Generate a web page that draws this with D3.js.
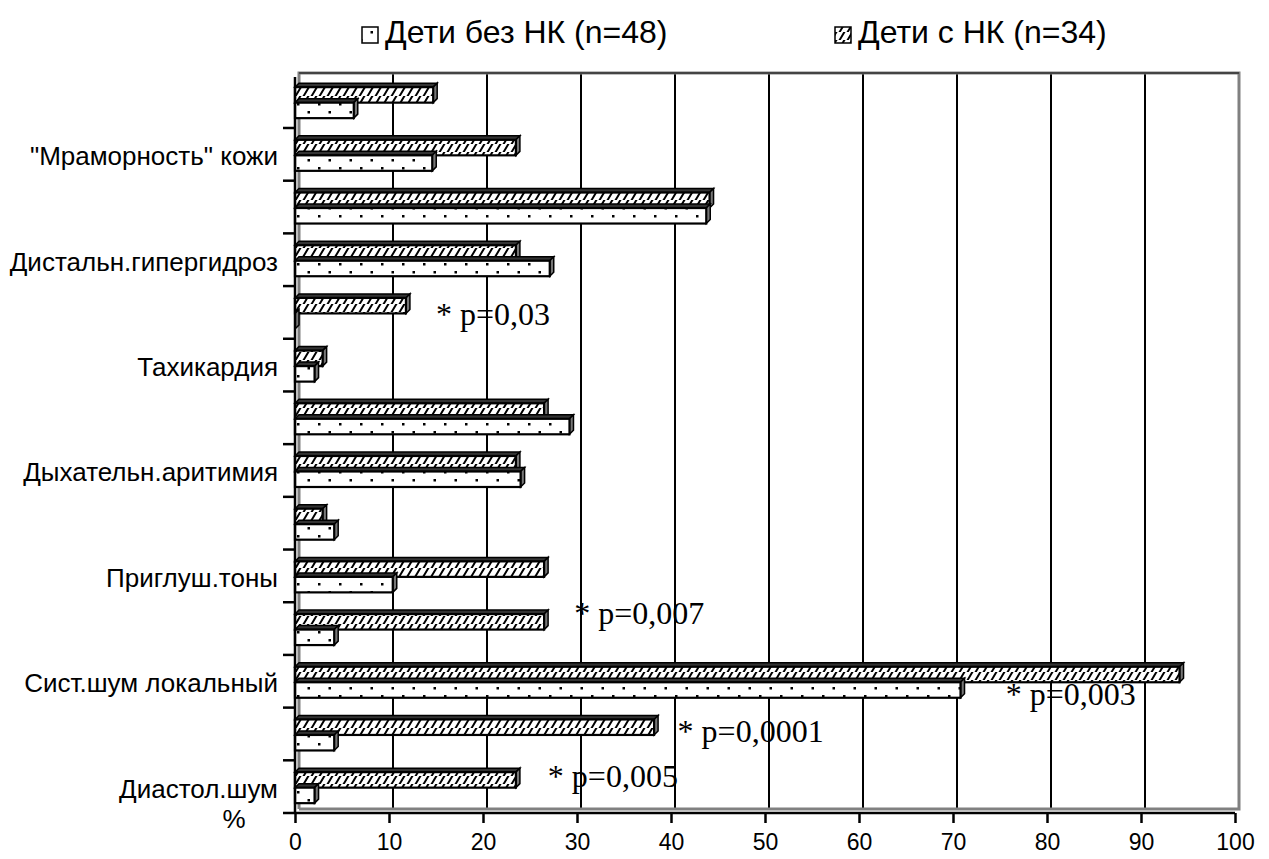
<!DOCTYPE html>
<html><head><meta charset="utf-8">
<script src="https://cdn.jsdelivr.net/npm/d3@7"></script>
<style>
html,body{margin:0;padding:0;background:#fff;}
svg{display:block;}
</style></head>
<body>
<svg id="chart" width="1269" height="859"></svg>
<script>
const categories = ["", "\"Мраморность\" кожи", "", "Дистальн.гипергидроз", "", "Тахикардия", "", "Дыхательн.аритимия", "", "Приглуш.тоны", "", "Сист.шум локальный", "", "Диастол.шум"];
const seriesNames = ["Дети без НК (n=48)", "Дети с НК (n=34)"];
const withoutNK = [6.25, 14.6, 43.75, 27.1, 0, 2.08, 29.2, 24.0, 4.17, 10.4, 4.17, 70.8, 4.17, 2.08];
const withNK = [14.7, 23.5, 44.1, 23.5, 11.8, 2.94, 26.5, 23.5, 2.94, 26.5, 26.5, 94.1, 38.2, 23.5];
const xTicks = [0, 10, 20, 30, 40, 50, 60, 70, 80, 90, 100];
const annotText = ["* p=0,03", "* p=0,007", "* p=0,003", "* p=0,0001", "* p=0,005"];
const annotValue = [15, 29.7, 75.6, 40.7, 26.9];
const annotRow = [4.7, 10.37, 11.91, 12.61, 13.46];

const svg = d3.select("#chart");
const D = 4; // 3D depth
const x = d3.scaleLinear().domain([0, 100]).range([295, 1235]);
const y = d3.scaleBand().domain(d3.range(categories.length)).range([75.3, 813]);
const yPos = d3.scaleLinear().domain([0, categories.length]).range([75.3, 813]);

const defs = svg.append("defs");
const hatch = defs.append("pattern").attr("id", "hatch").attr("patternUnits", "userSpaceOnUse")
  .attr("width", 8).attr("height", 8);
hatch.append("rect").attr("width", 8).attr("height", 8).attr("fill", "#fff");
hatch.append("path").attr("d", "M-1,9 L5,-1 M7,9 L13,-1 M-9,9 L-3,-1").attr("stroke", "#000").attr("stroke-width", 2);
const dots = defs.append("pattern").attr("id", "dots").attr("patternUnits", "userSpaceOnUse")
  .attr("width", 21).attr("height", 16);
dots.append("rect").attr("width", 21).attr("height", 16).attr("fill", "#fff");
dots.append("rect").attr("x", 3).attr("y", 7).attr("width", 2.5).attr("height", 2.5).attr("fill", "#000");
dots.append("rect").attr("x", 13.5).attr("y", -1).attr("width", 2.5).attr("height", 2.5).attr("fill", "#000");
dots.append("rect").attr("x", 13.5).attr("y", 15).attr("width", 2.5).attr("height", 2.5).attr("fill", "#000");

// annotations (behind gridlines)
svg.append("g").selectAll("text").data(annotText).join("text")
  .attr("x", (d, i) => x(annotValue[i]))
  .attr("y", (d, i) => yPos(annotRow[i]) + 2)
  .attr("font-family", "'Liberation Serif','Times New Roman',serif")
  .attr("font-size", 32).attr("fill", "#000").text(d => d);

// back wall frame and gridlines
const xb = v => x(v) + D;
const wallTop = 73, wallBottom = 813 - D;
svg.append("g").selectAll("line").data(xTicks.filter(t => t > 0 && t < 100)).join("line")
  .attr("x1", d => xb(d)).attr("x2", d => xb(d))
  .attr("y1", wallTop).attr("y2", wallBottom)
  .attr("stroke", "#000").attr("stroke-width", 2);
svg.append("path")
  .attr("d", `M${xb(0)},${wallBottom} L${xb(0)},${wallTop} L${xb(100)},${wallTop} L${xb(100)},${wallBottom} L${xb(0)},${wallBottom}`)
  .attr("fill", "none").attr("stroke", "#808080").attr("stroke-width", 3);
svg.append("line").attr("x1", xb(0)).attr("x2", xb(100)).attr("y1", wallTop).attr("y2", wallTop)
  .attr("stroke", "#444").attr("stroke-width", 2);

// bars
const barH = 15.5;
function bar3d(g, v, yTop, fill) {
  const x0 = x(0), x1 = x(v), y0 = yTop, y1 = yTop + barH;
  g.append("path").attr("d", `M${x0},${y0} L${x0 + D},${y0 - D} L${x1 + D},${y0 - D} L${x1},${y0} Z`)
    .attr("fill", "#333").attr("stroke", "#000").attr("stroke-width", 1.5);
  g.append("path").attr("d", `M${x1},${y0} L${x1 + D},${y0 - D} L${x1 + D},${y1 - D} L${x1},${y1} Z`)
    .attr("fill", "#777").attr("stroke", "#000").attr("stroke-width", 1.5);
  g.append("rect").attr("x", x0).attr("y", y0).attr("width", Math.max(0, x1 - x0)).attr("height", barH)
    .attr("fill", fill).attr("stroke", "#000").attr("stroke-width", 2.2);
}
const bars = svg.append("g");
categories.forEach((c, i) => {
  const cy = y(i) + y.bandwidth() / 2 + 1;
  const g = bars.append("g");
  bar3d(g, withNK[i], cy - barH, "url(#hatch)");
  bar3d(g, withoutNK[i], cy, "url(#dots)");
});

// left axis
svg.append("line").attr("x1", x(0)).attr("x2", x(0)).attr("y1", 77).attr("y2", 813)
  .attr("stroke", "#000").attr("stroke-width", 2.5);
svg.append("g").selectAll("line").data(d3.range(1, categories.length)).join("line")
  .attr("x1", x(0) - 12).attr("x2", x(0))
  .attr("y1", d => y(d)).attr("y2", d => y(d))
  .attr("stroke", "#000").attr("stroke-width", 2.5);
svg.append("g").selectAll("text").data(categories).join("text")
  .attr("x", 278).attr("y", (d, i) => y(i) + y.bandwidth() / 2 + 11)
  .attr("text-anchor", "end")
  .attr("font-family", "'Liberation Sans',Arial,sans-serif").attr("font-size", 26)
  .attr("fill", "#000").text(d => d);

// bottom axis
const xAxis = d3.axisBottom(x).tickValues(xTicks).tickSize(10).tickPadding(11).tickFormat(d3.format("d"));
const ax = svg.append("g").attr("transform", "translate(0,813)").call(xAxis);
ax.select(".domain").attr("d", `M${x(0) - 12},0H${x(100)}`).attr("stroke", "#000").attr("stroke-width", 2.5);
ax.selectAll(".tick line").attr("stroke", "#000").attr("stroke-width", 2.5);
ax.selectAll(".tick text").attr("font-family", "'Liberation Sans',Arial,sans-serif").attr("font-size", 23).attr("fill", "#000");
svg.append("text").attr("x", 234).attr("y", 828).attr("text-anchor", "middle")
  .attr("font-family", "'Liberation Sans',Arial,sans-serif").attr("font-size", 26).text("%");

// legend
const legX = [362, 835];
const legFill = ["url(#dots)", "url(#hatch)"];
const leg = svg.append("g");
seriesNames.forEach((s, i) => {
  leg.append("rect").attr("x", legX[i]).attr("y", 27).attr("width", 16).attr("height", 16)
    .attr("fill", legFill[i]).attr("stroke", "#000").attr("stroke-width", 1.5);
  leg.append("text").attr("x", legX[i] + 23).attr("y", 43)
    .attr("font-family", "'Liberation Sans',Arial,sans-serif").attr("font-size", 32)
    .attr("fill", "#000").text(s);
});
</script>
</body></html>
